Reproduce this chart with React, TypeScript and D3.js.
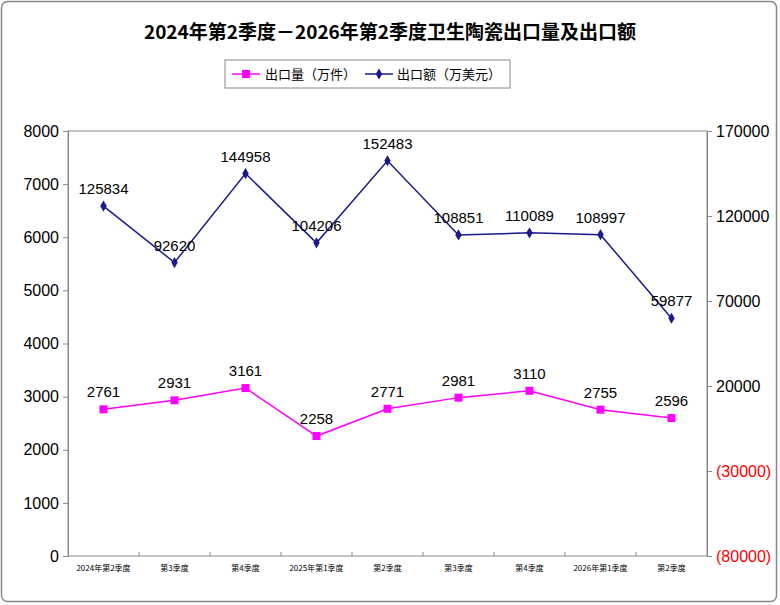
import React, { useEffect, useRef } from 'react';
import * as d3 from 'd3';

const categories = ['2024年第2季度', '第3季度', '第4季度', '2025年第1季度', '第2季度', '第3季度', '第4季度', '2026年第1季度', '第2季度'];
const volume = [2761, 2931, 3161, 2258, 2771, 2981, 3110, 2755, 2596];
const amount = [125834, 92620, 144958, 104206, 152483, 108851, 110089, 108997, 59877];
const leftTicks = [0, 1000, 2000, 3000, 4000, 5000, 6000, 7000, 8000];
const rightTicks = [-80000, -30000, 20000, 70000, 120000, 170000];

const FONT = '"Liberation Sans", Arial, "Noto Sans CJK SC", sans-serif';

const App: React.FC = () => {
    const svgRef = useRef<SVGSVGElement>(null);

    useEffect(() => {
        if (!svgRef.current) return;
        const svg = d3.select(svgRef.current);
        svg.selectAll('*').remove();

        const left = 68, right = 707, top = 131, bottom = 556;

        svg.append('rect').attr('x', 1.5).attr('y', 1.5).attr('width', 775).attr('height', 600)
            .attr('rx', 6).attr('fill', 'white').attr('stroke', '#888').attr('stroke-width', 1.5);

        svg.append('text').attr('x', 390).attr('y', 39).attr('text-anchor', 'middle')
            .style('font-family', '"Noto Sans CJK SC", sans-serif').style('font-size', '19px').style('font-weight', 'bold')
            .text('2024年第2季度－2026年第2季度卫生陶瓷出口量及出口额');

        const x = d3.scaleBand().domain(categories.map((c, i) => i + c)).range([left, right]);
        const cx = (i: number) => (x(i + categories[i]) as number) + x.bandwidth() / 2;
        const yL = d3.scaleLinear().domain([0, 8000]).range([bottom, top]);
        const yR = d3.scaleLinear().domain([-80000, 170000]).range([bottom, top]);

        // plot frame
        svg.append('rect').attr('x', left).attr('y', top).attr('width', right - left).attr('height', bottom - top)
            .attr('fill', 'none').attr('stroke', '#888');

        const axL = svg.append('g').attr('transform', `translate(${left},0)`)
            .call(d3.axisLeft(yL).tickValues(leftTicks).tickSize(5).tickFormat(d3.format('d')));
        axL.select('.domain').attr('stroke', '#888');
        axL.selectAll('line').attr('stroke', '#888');
        axL.selectAll('text').style('font-family', FONT).style('font-size', '16px').attr('fill', '#000').attr('x', -9);

        const axR = svg.append('g').attr('transform', `translate(${right},0)`)
            .call(d3.axisRight(yR).tickValues(rightTicks).tickSize(5)
                .tickFormat((d: any) => (d < 0 ? `(${-d})` : `${d}`)));
        axR.select('.domain').attr('stroke', '#888');
        axR.selectAll('line').attr('stroke', '#888');
        axR.selectAll('text').style('font-family', FONT).style('font-size', '16px')
            .attr('fill', (d: any) => (d < 0 ? '#ff0000' : '#000')).attr('x', 9);

        // category ticks
        const axB = svg.append('g').attr('transform', `translate(0,${bottom})`)
            .call(d3.axisBottom(x).tickSize(0).tickFormat((d: any) => d.slice(1)));
        axB.select('.domain').remove();
        axB.selectAll('text').style('font-family', '"Noto Sans CJK SC", sans-serif').style('font-size', '8px')
            .attr('fill', '#000').attr('y', 9);
        d3.range(1, categories.length).forEach(i => {
            const tx = left + i * x.bandwidth();
            svg.append('line').attr('x1', tx).attr('x2', tx).attr('y1', bottom).attr('y2', bottom - 4).attr('stroke', '#888');
        });

        const lineL = d3.line<number>().x((_, i) => cx(i)).y(d => yL(d));
        const lineR = d3.line<number>().x((_, i) => cx(i)).y(d => yR(d));

        svg.append('path').attr('d', lineL(volume)).attr('fill', 'none').attr('stroke', '#ff00ff').attr('stroke-width', 1.5);
        svg.append('path').attr('d', lineR(amount)).attr('fill', 'none').attr('stroke', '#1a1a8c').attr('stroke-width', 1.5);

        svg.selectAll('.sq').data(volume).enter().append('rect')
            .attr('x', (_, i) => cx(i) - 4).attr('y', d => yL(d) - 4).attr('width', 8).attr('height', 8).attr('fill', '#ff00ff');
        svg.selectAll('.dm').data(amount).enter().append('path')
            .attr('d', d3.symbol().type(d3.symbolDiamond).size(36))
            .attr('transform', (d, i) => `translate(${cx(i)},${yR(d)})`).attr('fill', '#1a1a8c');

        svg.selectAll('.vl').data(volume).enter().append('text')
            .attr('x', (_, i) => cx(i)).attr('y', d => yL(d) - 12).attr('text-anchor', 'middle')
            .style('font-family', FONT).style('font-size', '15px').text(d => d);
        svg.selectAll('.al').data(amount).enter().append('text')
            .attr('x', (_, i) => cx(i)).attr('y', d => yR(d) - 12).attr('text-anchor', 'middle')
            .style('font-family', FONT).style('font-size', '15px').text(d => d);

        // legend
        const lg = svg.append('g');
        lg.append('rect').attr('x', 225).attr('y', 60).attr('width', 285).attr('height', 28).attr('fill', 'white').attr('stroke', '#888');
        lg.append('line').attr('x1', 232).attr('x2', 260).attr('y1', 74).attr('y2', 74).attr('stroke', '#ff00ff').attr('stroke-width', 1.5);
        lg.append('rect').attr('x', 242).attr('y', 70).attr('width', 8).attr('height', 8).attr('fill', '#ff00ff');
        lg.append('text').attr('x', 265).attr('y', 79).style('font-family', '"Noto Sans CJK SC", sans-serif').style('font-size', '13px').text('出口量（万件）');
        lg.append('line').attr('x1', 365).attr('x2', 393).attr('y1', 74).attr('y2', 74).attr('stroke', '#1a1a8c').attr('stroke-width', 1.5);
        lg.append('path').attr('d', d3.symbol().type(d3.symbolDiamond).size(36)).attr('transform', 'translate(379,74)').attr('fill', '#1a1a8c');
        lg.append('text').attr('x', 397).attr('y', 79).style('font-family', '"Noto Sans CJK SC", sans-serif').style('font-size', '13px').text('出口额（万美元）');
    }, []);

    return <svg ref={svgRef} width={778} height={604} style={{ display: 'block', position: 'absolute', left: 0, top: 0 }} />;
};

export default App;
